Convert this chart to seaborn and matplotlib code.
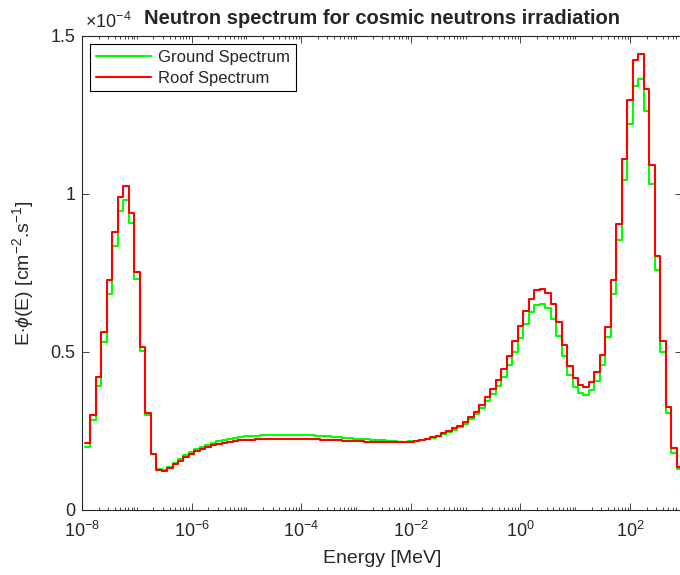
"""
Neutron spectrum for cosmic neutrons irradiation
Step plot of E*phi(E) on a log energy axis, ground vs roof spectrum.
"""

import numpy as np
import pandas as pd
import matplotlib
matplotlib.use("Agg")
import matplotlib.pyplot as plt
import matplotlib.ticker as mticker
import seaborn as sns

sns.set_style("ticks")
plt.rcParams['font.family'] = ['Liberation Sans', 'DejaVu Sans']
plt.rcParams['mathtext.fontset'] = 'custom'
plt.rcParams['mathtext.rm'] = 'Liberation Sans'
plt.rcParams['mathtext.it'] = 'Liberation Sans:italic'
plt.rcParams['mathtext.bf'] = 'Liberation Sans:bold'

# energy bins: 10 per decade, first lower edge at 10^-7.95 MeV
bin_start_exp = -7.95
bin_width_exp = 0.1

# E*phi(E) per bin, in units of 1e-4 cm^-2 s^-1
ground_e4 = [
    0.198, 0.283, 0.392, 0.531, 0.683, 0.833, 0.946, 0.981, 0.907, 0.730,
    0.504, 0.300, 0.177, 0.129, 0.127, 0.135, 0.148, 0.160, 0.174, 0.183,
    0.192, 0.200, 0.207, 0.213, 0.218, 0.222, 0.226, 0.229, 0.231, 0.233,
    0.234, 0.235, 0.236, 0.237, 0.237, 0.238, 0.238, 0.238, 0.238, 0.237,
    0.237, 0.236, 0.235, 0.234, 0.233, 0.232, 0.231, 0.229, 0.228, 0.226,
    0.225, 0.223, 0.222, 0.221, 0.220, 0.219, 0.218, 0.216, 0.216, 0.217,
    0.219, 0.222, 0.225, 0.229, 0.233, 0.240, 0.246, 0.253, 0.262, 0.272,
    0.287, 0.304, 0.322, 0.343, 0.367, 0.392, 0.420, 0.459, 0.501, 0.545,
    0.589, 0.626, 0.649, 0.651, 0.638, 0.603, 0.551, 0.487, 0.427, 0.388,
    0.369, 0.364, 0.380, 0.409, 0.459, 0.546, 0.682, 0.852, 1.044, 1.220,
    1.340, 1.361, 1.261, 1.031, 0.759, 0.501, 0.308, 0.181, 0.130,
]
roof_e4 = [
    0.211, 0.300, 0.420, 0.564, 0.726, 0.879, 0.991, 1.023, 0.939, 0.751,
    0.515, 0.306, 0.177, 0.127, 0.123, 0.133, 0.146, 0.156, 0.167, 0.176,
    0.185, 0.192, 0.198, 0.204, 0.208, 0.212, 0.215, 0.218, 0.220, 0.221,
    0.222, 0.223, 0.223, 0.224, 0.224, 0.224, 0.225, 0.225, 0.225, 0.225,
    0.224, 0.224, 0.223, 0.222, 0.222, 0.221, 0.220, 0.219, 0.218, 0.217,
    0.217, 0.216, 0.216, 0.215, 0.215, 0.214, 0.214, 0.214, 0.215, 0.216,
    0.219, 0.222, 0.226, 0.230, 0.235, 0.243, 0.249, 0.258, 0.267, 0.277,
    0.293, 0.311, 0.332, 0.357, 0.383, 0.411, 0.446, 0.487, 0.535, 0.582,
    0.628, 0.668, 0.696, 0.699, 0.686, 0.651, 0.593, 0.522, 0.456, 0.417,
    0.396, 0.390, 0.406, 0.437, 0.491, 0.580, 0.726, 0.905, 1.110, 1.295,
    1.422, 1.443, 1.332, 1.091, 0.802, 0.533, 0.327, 0.195, 0.135,
]

series_labels = ['Ground Spectrum', 'Roof Spectrum']
series_colors = {'Ground Spectrum': '#00ff00', 'Roof Spectrum': '#ff0000'}
x_major_exps = [-8, -6, -4, -2, 0, 2]
y_ticks = [0, 0.5, 1, 1.5]

n_bins = len(roof_e4)
edges = 10.0 ** (bin_start_exp + bin_width_exp * np.arange(n_bins + 1))

frames = []
for label, vals in zip(series_labels, [ground_e4, roof_e4]):
    # repeat last value so the final step reaches the upper edge
    frames.append(pd.DataFrame({'energy': edges,
                                'flux': list(vals) + [vals[-1]],
                                'spectrum': label}))
df = pd.concat(frames, ignore_index=True)

fig = plt.figure(figsize=(6.8, 5.75), dpi=100)
ax = fig.add_axes([82.1 / 680, 65 / 575, 600 / 680, 474.5 / 575])

sns.lineplot(data=df, x='energy', y='flux', hue='spectrum',
             hue_order=series_labels, palette=series_colors,
             estimator=None, sort=False, drawstyle='steps-post',
             linewidth=1.5, legend=False, ax=ax)

ax.set_xscale('log')
ax.set_xlim(1e-8, edges[-1])
ax.set_ylim(0, 1.5)

ax.xaxis.set_major_locator(mticker.FixedLocator([10.0 ** e for e in x_major_exps]))
ax.xaxis.set_major_formatter(mticker.LogFormatterSciNotation())
ax.xaxis.set_minor_locator(mticker.LogLocator(base=10, subs=np.arange(1, 10), numticks=100))
ax.xaxis.set_minor_formatter(mticker.NullFormatter())
ax.set_yticks(y_ticks)
ax.yaxis.set_major_formatter(mticker.FuncFormatter(lambda v, p: f'{v:g}'))

ax.tick_params(which='both', direction='in', top=True, right=True,
               color='#262626', labelcolor='#262626', width=0.6)
ax.tick_params(which='major', length=5, labelsize=13)
ax.tick_params(axis='y', which='major', pad=5)
ax.tick_params(axis='x', which='major', pad=8)
ax.tick_params(which='minor', length=2.5)
for sp in ax.spines.values():
    sp.set_color('#262626')
    sp.set_linewidth(0.8)

ax.set_xlabel('Energy [MeV]', fontsize=14, color='#262626', labelpad=6)
ax.set_ylabel(r'E$\cdot\phi$(E) [cm$^{-2}$.s$^{-1}$]', fontsize=14,
              color='#262626', labelpad=10)
ax.set_title('Neutron spectrum for cosmic neutrons irradiation',
             fontsize=14.5, fontweight='bold', pad=8)
ax.text(0.005, 1.008, r'$\times10^{-4}$', transform=ax.transAxes,
        fontsize=13, ha='left', va='bottom', color='#262626')

leg = ax.legend(handles=ax.lines[:2], labels=series_labels, loc='upper left',
                fontsize=12, frameon=True, fancybox=False, edgecolor='black',
                framealpha=1, handlelength=3.3, handletextpad=0.4,
                labelspacing=0.35, borderpad=0.35, borderaxespad=0.5)
leg.get_frame().set_linewidth(0.8)

fig.savefig('out.png', dpi=100)
plt.close(fig)
